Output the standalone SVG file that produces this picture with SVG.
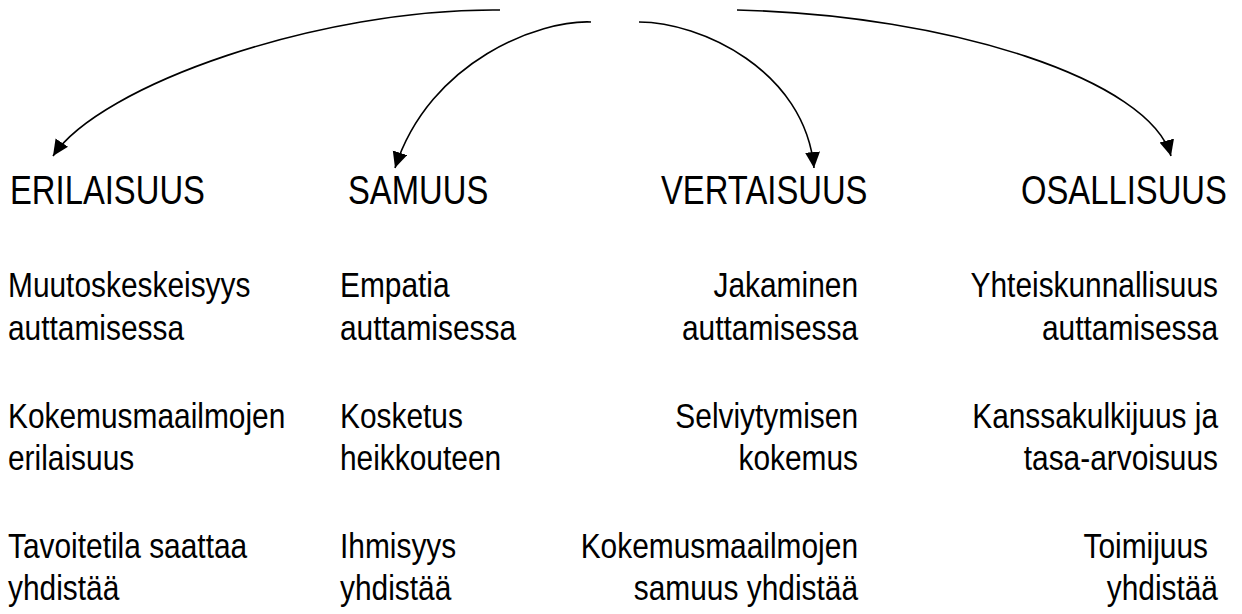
<svg xmlns="http://www.w3.org/2000/svg" width="1242" height="614" viewBox="0 0 1242 614">
<style>
  text { font-family: "Liberation Sans", Arial, sans-serif; fill: #000; }
  .h { font-size: 40px; }
  .b { font-size: 36px; }
  .e { text-anchor: end; }
  .c { fill: none; stroke: #000; stroke-width: 1.6; marker-end: url(#ah); }
</style>
<defs>
  <marker id="ah" markerUnits="userSpaceOnUse" markerWidth="18" markerHeight="16" refX="16" refY="7.5" orient="auto" viewBox="0 0 18 16">
    <path d="M0,0 L16,7.5 L0,15 z" fill="#000"/>
  </marker>
</defs>
<rect width="1242" height="614" fill="#fff"/>
<g id="connectors">
  <path class="c" d="M500,10 C320,8 100,85 53,156"/>
  <path class="c" d="M591,22 C540,20 430,60 395,168"/>
  <path class="c" d="M639,22 C700,22 805,70 814,168"/>
  <path class="c" d="M737,10 C950,15 1150,80 1171,156"/>
</g>
<g id="erilaisuus">
  <text class="h" transform="translate(10,204) scale(0.82,1)">ERILAISUUS</text>
  <text class="b" transform="translate(8,297) scale(0.83,1)">Muutoskeskeisyys</text>
  <text class="b" transform="translate(8,340) scale(0.83,1)">auttamisessa</text>
  <text class="b" transform="translate(8,428) scale(0.83,1)">Kokemusmaailmojen</text>
  <text class="b" transform="translate(8,470) scale(0.83,1)">erilaisuus</text>
  <text class="b" transform="translate(8,558) scale(0.83,1)">Tavoitetila saattaa</text>
  <text class="b" transform="translate(8,600) scale(0.83,1)">yhdistää</text>
</g>
<g id="samuus">
  <text class="h" transform="translate(348,204) scale(0.82,1)">SAMUUS</text>
  <text class="b" transform="translate(340,297) scale(0.83,1)">Empatia</text>
  <text class="b" transform="translate(340,340) scale(0.83,1)">auttamisessa</text>
  <text class="b" transform="translate(340,428) scale(0.83,1)">Kosketus</text>
  <text class="b" transform="translate(340,470) scale(0.83,1)">heikkouteen</text>
  <text class="b" transform="translate(340,558) scale(0.83,1)">Ihmisyys</text>
  <text class="b" transform="translate(340,600) scale(0.83,1)">yhdistää</text>
</g>
<g id="vertaisuus">
  <text class="h" transform="translate(661,204) scale(0.82,1)">VERTAISUUS</text>
  <text class="b e" transform="translate(858,297) scale(0.83,1)">Jakaminen</text>
  <text class="b e" transform="translate(858,340) scale(0.83,1)">auttamisessa</text>
  <text class="b e" transform="translate(858,428) scale(0.83,1)">Selviytymisen</text>
  <text class="b e" transform="translate(858,470) scale(0.83,1)">kokemus</text>
  <text class="b e" transform="translate(858,558) scale(0.83,1)">Kokemusmaailmojen</text>
  <text class="b e" transform="translate(858,600) scale(0.83,1)">samuus yhdistää</text>
</g>
<g id="osallisuus">
  <text class="h" transform="translate(1021,204) scale(0.82,1)">OSALLISUUS</text>
  <text class="b e" transform="translate(1218,297) scale(0.83,1)">Yhteiskunnallisuus</text>
  <text class="b e" transform="translate(1218,340) scale(0.83,1)">auttamisessa</text>
  <text class="b e" transform="translate(1218,428) scale(0.83,1)">Kanssakulkijuus ja</text>
  <text class="b e" transform="translate(1218,470) scale(0.83,1)">tasa-arvoisuus</text>
  <text class="b e" transform="translate(1208,558) scale(0.83,1)">Toimijuus</text>
  <text class="b e" transform="translate(1218,600) scale(0.83,1)">yhdistää</text>
</g>
</svg>
